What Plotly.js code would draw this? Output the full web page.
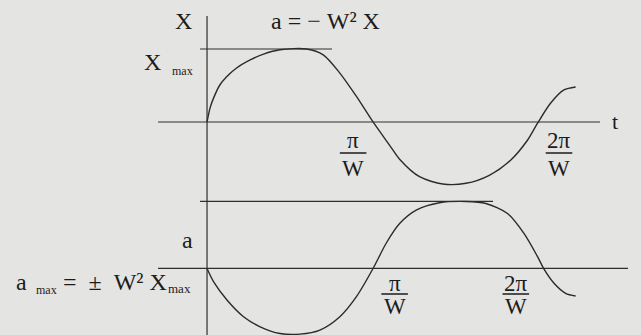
<!DOCTYPE html>
<html>
<head>
<meta charset="utf-8">
<script src="https://cdn.plot.ly/plotly-3.0.1.min.js"></script>
<style>
  html, body { margin: 0; padding: 0; background: #e4e4e2; }
</style>
</head>
<body>
<div id="plot" style="width:641px;height:335px;"></div>
<script>
// time in units of pi/W, displacement in units of Xmax, acceleration in units of a_max
const tX = [0, 0.018, 0.038, 0.078, 0.118, 0.178, 0.26, 0.34, 0.44, 0.60, 0.70, 0.80, 0.90,
            1.00, 1.10, 1.16, 1.28, 1.42, 1.56, 1.70, 1.83, 1.93, 1.99, 2.07, 2.15, 2.22];
const xVals = [0, 0.19, 0.32, 0.51, 0.62, 0.74, 0.85, 0.93, 0.99, 1.0, 0.92, 0.67, 0.35,
               0, -0.32, -0.51, -0.75, -0.85, -0.84, -0.73, -0.52, -0.25, -0.02, 0.26, 0.44, 0.48];

const tA = [0, 0.04, 0.12, 0.22, 0.32, 0.44, 0.56, 0.68, 0.80, 0.90, 1.00, 1.08, 1.16,
            1.26, 1.40, 1.56, 1.68, 1.81, 1.91, 1.99, 2.03, 2.09, 2.16, 2.22];
const aVals = [0, -0.20, -0.47, -0.72, -0.87, -0.97, -0.98, -0.92, -0.72, -0.42, 0, 0.38, 0.67,
               0.87, 0.98, 1.0, 0.97, 0.82, 0.52, 0.18, -0.01, -0.22, -0.37, -0.41];

// where the pi/W labels sit on each time axis
const piNum = ["π", "2π"];
const piTopT = [0.88, 2.12];
const piBotT = [1.13, 1.86];

const ink = "#1c1c1c";
const serif = "Liberation Serif, Times New Roman, serif";
const H = 335;
const py = p => 1 - p / H;   // pixel row -> paper y

function txt(x, y, text, size, opts) {
  return Object.assign({
    x: x, y: y, xref: "paper", yref: "paper", text: text, showarrow: false,
    font: { family: serif, size: size, color: ink },
    xanchor: "center", yanchor: "middle"
  }, opts || {});
}

const curveLine = { color: "#2b2b2b", width: 1.4, shape: "spline", smoothing: 0.8 };

const data = [
  { x: tX, y: xVals, type: "scatter", mode: "lines", line: curveLine, xaxis: "x", yaxis: "y", hoverinfo: "skip" },
  { x: tA, y: aVals, type: "scatter", mode: "lines", line: curveLine, xaxis: "x", yaxis: "y2", hoverinfo: "skip" }
];

const axLine = { color: "#2e2e2e", width: 1.2 };
const shapes = [
  // vertical axis shared by both graphs
  { type: "line", xref: "x", yref: "paper", x0: 0, x1: 0, y0: 0, y1: py(16), line: axLine },
  // t axis and Xmax level (top)
  { type: "line", xref: "x", yref: "y", x0: -0.295, x1: 2.367, y0: 0, y1: 0, line: axLine },
  { type: "line", xref: "x", yref: "y", x0: -0.042, x1: 0.753, y0: 1, y1: 1, line: axLine },
  // t axis and a_max level (bottom)
  { type: "line", xref: "x", yref: "y2", x0: -0.295, x1: 2.536, y0: 0, y1: 0, line: axLine },
  { type: "line", xref: "x", yref: "y2", x0: -0.042, x1: 1.723, y0: 1, y1: 1, line: axLine }
];

const annotations = [
  txt(183 / 641, py(21), "X", 24),
  txt(269 / 641, py(21), "a =\u00a0\u2212\u00a0W\u00b2\u00a0X", 24, { xanchor: "left" }),
  txt(142 / 641, py(62), "X", 24, { xanchor: "left" }),
  txt(170 / 641, py(71), "max", 12, { xanchor: "left" }),
  txt(615 / 641, py(121), "t", 22),
  txt(187 / 641, py(240), "a", 24),
  txt(14 / 641, py(282), "a", 24, { xanchor: "left" }),
  txt(34 / 641, py(290), "max", 12, { xanchor: "left" }),
  txt(61 / 641, py(282), "=\u00a0\u00a0\u00b1\u00a0\u00a0W\u00b2\u00a0X", 24, { xanchor: "left" }),
  txt(166 / 641, py(288), "max", 13, { xanchor: "left" })
];

// pi/W fraction labels: numerator, bar, denominator
function frac(t, num, rowNum, rowBar, rowDen) {
  annotations.push({ x: t, y: py(rowNum), xref: "x", yref: "paper", text: num, showarrow: false,
    font: { family: serif, size: 23, color: ink }, xanchor: "center", yanchor: "middle" });
  annotations.push({ x: t, y: py(rowDen), xref: "x", yref: "paper", text: "W", showarrow: false,
    font: { family: serif, size: 23, color: ink }, xanchor: "center", yanchor: "middle" });
  shapes.push({ type: "line", xref: "x", yref: "paper", x0: t - 0.08, x1: t + 0.08,
    y0: py(rowBar), y1: py(rowBar), line: { color: ink, width: 1.5 } });
}
piNum.forEach((n, i) => frac(piTopT[i], n, 140, 153, 168));
piNum.forEach((n, i) => frac(piBotT[i], n, 283, 294, 306));

const layout = {
  width: 641, height: 335, autosize: false,
  margin: { l: 0, r: 0, t: 0, b: 0, pad: 0 },
  paper_bgcolor: "#e4e4e2", plot_bgcolor: "#e4e4e2",
  showlegend: false,
  xaxis: { range: [-1.247, 2.614], visible: false, fixedrange: true },
  yaxis: { range: [-2.918, 1.671], visible: false, fixedrange: true },
  yaxis2: { range: [-0.993, 4.007], visible: false, overlaying: "y", fixedrange: true },
  shapes: shapes,
  annotations: annotations
};

Plotly.newPlot("plot", data, layout, { displayModeBar: false, staticPlot: true });
</script>
</body>
</html>
